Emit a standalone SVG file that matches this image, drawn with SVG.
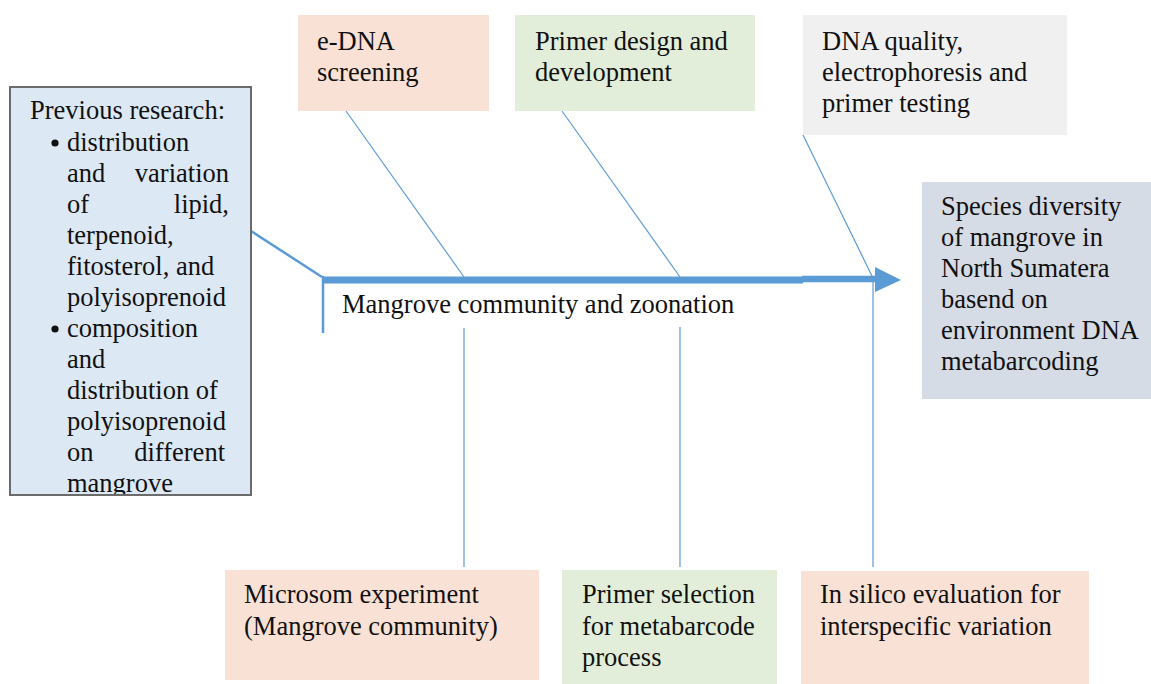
<svg xmlns="http://www.w3.org/2000/svg" width="1151" height="684" viewBox="0 0 1151 684" font-family="'Liberation Serif', 'DejaVu Serif', serif" font-size="26.5">
<style>
text{font-family:'Liberation Serif','DejaVu Serif',serif;font-size:26.5px;fill:#111}
.peach{fill:#f9e2d5}
.green{fill:#e2eed9}
.grey{fill:#f0f0f0}
.blue{fill:#d6dce5}
.rib{stroke:#5b9bd5;stroke-width:1.2;fill:none}
.bone{stroke:#5b9bd5;stroke-width:2.5;fill:none}
</style>
<defs>
<clipPath id="lb"><rect x="10" y="87" width="241" height="407"/></clipPath>
</defs>
<rect width="1151" height="684" fill="#fff"/>
<g id="connectors">
<line class="bone" x1="251" y1="231" x2="322" y2="277"/>
<line class="bone" x1="323" y1="276" x2="323" y2="333"/>
<line x1="322" y1="280" x2="803" y2="280" stroke="#5b9bd5" stroke-width="7"/>
<line x1="802" y1="279" x2="878" y2="279" stroke="#5b9bd5" stroke-width="6.5"/>
<polygon points="875,267 901,280 875,292" fill="#5b9bd5"/>
<line class="rib" x1="346" y1="111" x2="464" y2="277"/>
<line class="rib" x1="562" y1="111" x2="680" y2="277"/>
<line class="rib" x1="803" y1="135" x2="872" y2="276"/>
<line class="rib" x1="464" y1="328" x2="464" y2="567"/>
<line class="rib" x1="680" y1="327" x2="680" y2="567"/>
<line class="rib" x1="873" y1="282" x2="873" y2="567"/>
</g>
<g id="previous-research">
<rect x="10" y="87" width="241" height="408" fill="#dde8f5" stroke="#6b6b6b" stroke-width="2"/>
<g clip-path="url(#lb)">
<text x="30" y="119">Previous research:</text>
<circle cx="55" cy="143" r="3.6" fill="#111"/>
<text x="67" y="151">distribution</text>
<text x="67" y="182">and</text><text x="229" y="182" text-anchor="end">variation</text>
<text x="67" y="213">of</text><text x="229" y="213" text-anchor="end">lipid,</text>
<text x="67" y="244">terpenoid,</text>
<text x="67" y="275">fitosterol, and</text>
<text x="67" y="306">polyisoprenoid</text>
<circle cx="55" cy="329" r="3.6" fill="#111"/>
<text x="67" y="337">composition</text>
<text x="67" y="368">and</text>
<text x="67" y="399">distribution of</text>
<text x="67" y="430">polyisoprenoid</text>
<text x="67" y="461">on</text><text x="225" y="461" text-anchor="end">different</text>
<text x="67" y="492">mangrove</text>
</g>
</g>
<g id="edna">
<rect class="peach" x="298" y="15" width="191" height="96"/>
<text x="317" y="50">e-DNA</text>
<text x="317" y="81">screening</text>
</g>
<g id="primer-design">
<rect class="green" x="515" y="15" width="240" height="96"/>
<text x="535" y="50">Primer design and</text>
<text x="535" y="81">development</text>
</g>
<g id="dna-quality">
<rect class="grey" x="803" y="15" width="264" height="120"/>
<text x="822" y="50">DNA quality,</text>
<text x="822" y="81">electrophoresis and</text>
<text x="822" y="112">primer testing</text>
</g>
<g id="spine-label">
<text x="342" y="313">Mangrove community and zoonation</text>
</g>
<g id="species-diversity">
<rect class="blue" x="922" y="182" width="229" height="217"/>
<text x="941" y="215">Species diversity</text>
<text x="941" y="246">of mangrove in</text>
<text x="941" y="277">North Sumatera</text>
<text x="941" y="308">basend on</text>
<text x="941" y="339">environment DNA</text>
<text x="941" y="370">metabarcoding</text>
</g>
<g id="microsom">
<rect class="peach" x="225" y="570" width="314" height="110"/>
<text x="244" y="603">Microsom experiment</text>
<text x="244" y="635">(Mangrove community)</text>
</g>
<g id="primer-selection">
<rect class="green" x="562" y="570" width="215" height="114"/>
<text x="582" y="603">Primer selection</text>
<text x="582" y="635">for metabarcode</text>
<text x="582" y="666">process</text>
</g>
<g id="in-silico">
<rect class="peach" x="801" y="571" width="288" height="113"/>
<text x="820" y="603">In silico evaluation for</text>
<text x="820" y="635">interspecific variation</text>
</g>
</svg>
